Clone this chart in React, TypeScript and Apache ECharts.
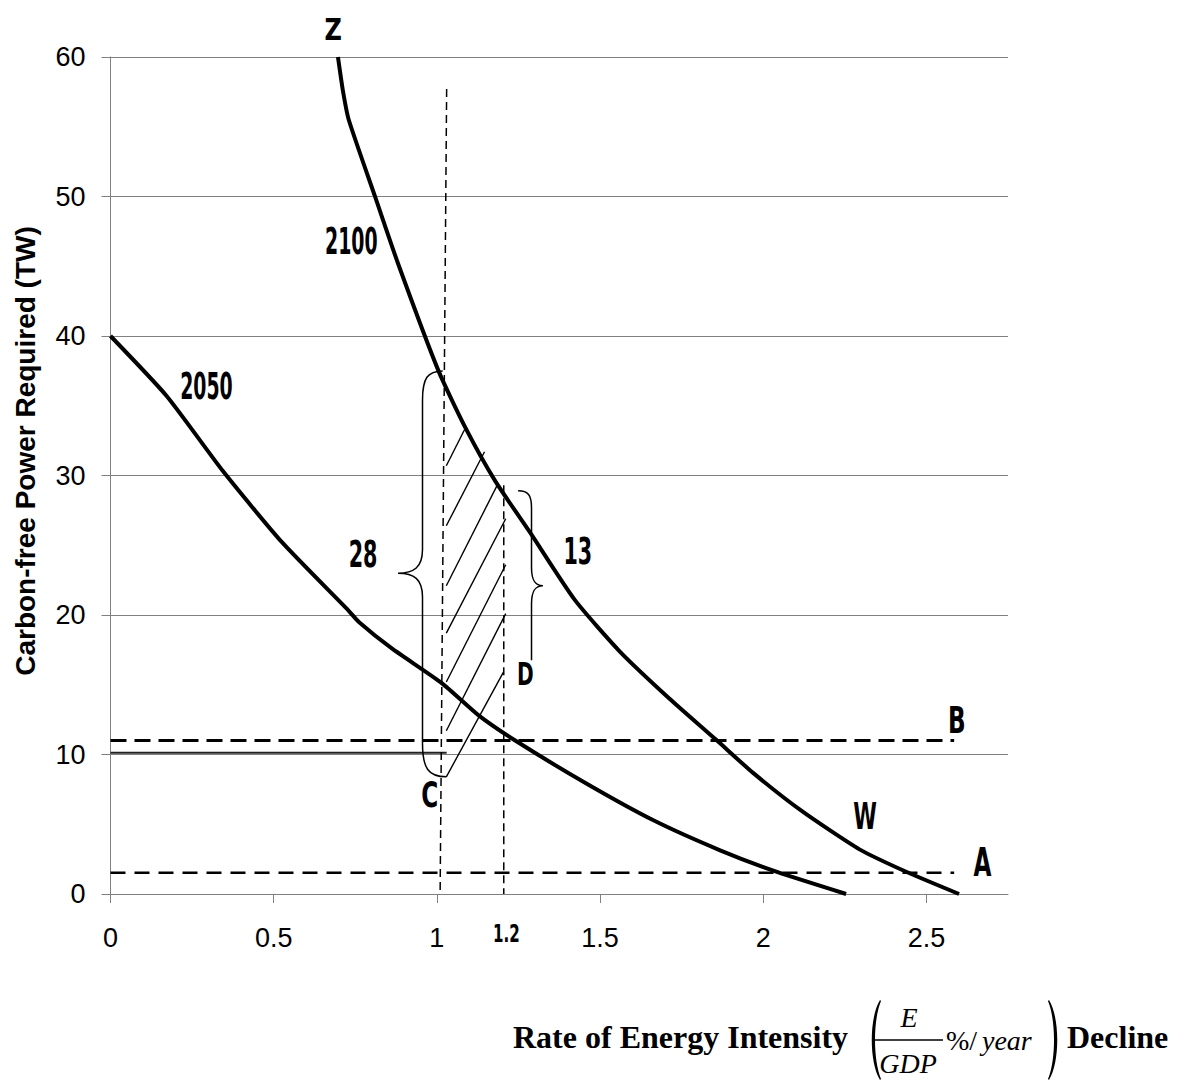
import React, { useEffect, useRef } from "react";
import * as echarts from "echarts";

// ---------- data ----------
const xTickValues = [0, 0.5, 1, 1.5, 2, 2.5];
const yTickValues = [0, 10, 20, 30, 40, 50, 60];

const curve2100: number[][] = [
  [0.697, 60], [0.712, 57.6], [0.73, 55.5], [0.812, 49.9], [0.881, 45.2],
  [1.005, 37.5], [1.087, 33.45], [1.179, 29.6], [1.286, 25.9], [1.422, 21.1],
  [1.56, 17.4], [1.713, 14.0], [1.856, 11.05], [1.968, 8.7], [2.121, 5.9],
  [2.295, 3.2], [2.445, 1.52], [2.6, 0],
];
const curve2050: number[][] = [
  [0, 40], [0.172, 35.7], [0.345, 30.3], [0.526, 25.2], [0.73, 20.3],
  [0.761, 19.5], [0.862, 17.6], [1.016, 15.1], [1.128, 12.8], [1.24, 11.0],
  [1.458, 7.92], [1.662, 5.3], [1.866, 3.15], [2.04, 1.6], [2.254, 0],
];
const lineB: number[][] = [[0, 11.0], [2.585, 11.0]];
const lineA: number[][] = [[0, 1.52], [2.585, 1.52]];
const line10: number[][] = [[0, 10.12], [1.03, 10.12]];
const vLine1: number[][] = [[1.03, 57.7], [1.01, 0]];
const vLine2: number[][] = [[1.205, 29.3], [1.205, 0]];

// hatch segments: x1, y1, x2, y2
const hatchSegments: number[][] = [
  [1.029, 30.7, 1.085, 33.3],
  [1.029, 26.4, 1.146, 31.7],
  [1.029, 22.1, 1.187, 29.4],
  [1.029, 18.7, 1.211, 26.9],
  [1.029, 15.2, 1.211, 23.6],
  [1.029, 11.7, 1.211, 20.1],
  [1.029, 8.4, 1.204, 15.9],
];

// braces: top end, spine x, tip, bottom end, curl sizes (y units)
const braces = [
  { top: [1.018, 37.5], spineX: 0.956, tip: [0.881, 23.0], bottom: [1.029, 8.4], topCurl: 2.1, tipCurl: 1.7, bottomCurl: 2.4 },
  { top: [1.249, 28.9], spineX: 1.29, tip: [1.325, 22.1], bottom: [1.29, 16.75], topCurl: 1.2, tipCurl: 1.3, bottomCurl: 0 },
];

const labelTexts = ["Z", "2100", "2050", "28", "13", "D", "C", "B", "A", "W", "1.2"];
const labelPositions: number[][] = [
  [0.682, 62.0], [0.738, 46.8], [0.294, 36.4], [0.774, 24.4], [1.432, 24.6],
  [1.271, 15.8], [0.978, 7.1], [2.593, 12.45], [2.672, 2.3], [2.312, 5.58], [1.213, -2.8],
];
const labelSizes = [28, 28, 28, 28, 28, 28, 28, 28, 28, 28, 21];
const labelScaleX = [0.95, 0.75, 0.75, 0.82, 0.82, 0.8, 0.92, 0.92, 0.92, 0.85, 0.8];
const labelScaleY = [1.1, 1.3, 1.35, 1.35, 1.35, 1.15, 1.25, 1.35, 1.4, 1.35, 1.2];

// ---------- shapes ----------
let registered = false;
function registerShapes() {
  if (registered) return;
  registered = true;
  echarts.graphic.registerShape(
    "lparen",
    echarts.graphic.extendPath("M14 0 C3 18 3 62 14 80 L15 79 C7 60 7 20 15 1 Z", {})
  );
  echarts.graphic.registerShape(
    "rparen",
    echarts.graphic.extendPath("M0 0 C11 18 11 62 0 80 L-1 79 C7 60 7 20 -1 1 Z", {})
  );
}

const narrowFont = "'Liberation Sans Narrow', 'Arial Narrow', 'DejaVu Sans Condensed', sans-serif";
const sansFont = "'Liberation Sans', Arial, sans-serif";
const serifFont = "'Liberation Serif', 'Times New Roman', serif";

export default function App() {
  const ref = useRef<HTMLDivElement>(null);

  useEffect(() => {
    document.body.style.margin = "0";
    registerShapes();
    const chart = echarts.init(ref.current!, null, { renderer: "svg" });

    const gray = "#808080";

    const lineSeries = (data: number[][], width: number, type: any, color = "#000", smooth: any = false) => ({
      type: "line",
      data,
      symbol: "none",
      smooth,
      silent: true,
      lineStyle: { color, width, type },
      z: 3,
    });

    const option: any = {
      animation: false,
      backgroundColor: "#fff",
      grid: { left: 110.5, right: 180, top: 57, bottom: 187 },
      xAxis: {
        type: "value",
        min: 0,
        max: 2.75,
        interval: 0.5,
        splitLine: { show: false },
        axisLine: { show: true, lineStyle: { color: gray, width: 1 } },
        axisTick: { show: true, length: 9, lineStyle: { color: gray }, customValues: xTickValues },
        axisLabel: {
          customValues: xTickValues,
          color: "#000",
          fontSize: 27,
          fontFamily: sansFont,
          margin: 30,
          lineHeight: 27,
        },
      },
      yAxis: {
        type: "value",
        min: 0,
        max: 60,
        interval: 10,
        splitLine: { show: true, lineStyle: { color: gray, width: 1 } },
        axisLine: { show: true, lineStyle: { color: gray, width: 1 } },
        axisTick: { show: true, length: 9, lineStyle: { color: gray }, customValues: yTickValues },
        axisLabel: { color: "#000", fontSize: 27, fontFamily: sansFont, margin: 25 },
      },
      series: [
        lineSeries(curve2100, 4, "solid", "#000", 0.2),
        lineSeries(curve2050, 4, "solid", "#000", 0.2),
        lineSeries(lineB, 3, [16, 8]),
        lineSeries(lineA, 2.5, [15, 9]),
        lineSeries(line10, 2, "solid", "#222"),
        lineSeries(vLine1, 1.5, [8, 5]),
        lineSeries(vLine2, 1.5, [8, 5]),
        {
          type: "custom",
          silent: true,
          z: 4,
          data: hatchSegments,
          renderItem: (params: any, api: any) => {
            const p1 = api.coord([api.value(0), api.value(1)]);
            const p2 = api.coord([api.value(2), api.value(3)]);
            return {
              type: "line",
              shape: { x1: p1[0], y1: p1[1], x2: p2[0], y2: p2[1] },
              style: { stroke: "#000", lineWidth: 1.4 },
            };
          },
        },
        {
          type: "custom",
          silent: true,
          z: 4,
          data: braces.map((b) => b.top),
          renderItem: (params: any, api: any) => {
            const b = braces[params.dataIndex];
            const T = api.coord(b.top);
            const P = api.coord(b.tip);
            const B = api.coord(b.bottom);
            const sx = api.coord([b.spineX, 0])[0];
            const unit = api.size([0, 1])[1];
            const rt = b.topCurl * unit;
            const rp = b.tipCurl * unit;
            const rb = b.bottomCurl * unit;
            let d = `M${T[0]} ${T[1]} C${T[0] + (sx - T[0]) * 0.75} ${T[1]} ${sx} ${T[1] + rt * 0.25} ${sx} ${T[1] + rt}`;
            d += ` L${sx} ${P[1] - rp}`;
            d += ` C${sx} ${P[1] - rp * 0.25} ${sx + (P[0] - sx) * 0.35} ${P[1]} ${P[0]} ${P[1]}`;
            d += ` C${sx + (P[0] - sx) * 0.35} ${P[1]} ${sx} ${P[1] + rp * 0.25} ${sx} ${P[1] + rp}`;
            if (rb > 0) {
              d += ` L${sx} ${B[1] - rb}`;
              d += ` C${sx} ${B[1] - rb * 0.25} ${sx + (B[0] - sx) * 0.25} ${B[1]} ${B[0]} ${B[1]}`;
            } else {
              d += ` L${sx} ${B[1]}`;
            }
            return {
              type: "path",
              shape: { pathData: d },
              style: { stroke: "#000", fill: "none", lineWidth: 1.5 },
            };
          },
        },
        {
          type: "custom",
          silent: true,
          z: 5,
          data: labelPositions,
          renderItem: (params: any, api: any) => {
            const p = api.coord([api.value(0), api.value(1)]);
            const i = params.dataIndex;
            return {
              type: "text",
              x: p[0],
              y: p[1],
              scaleX: labelScaleX[i],
              scaleY: labelScaleY[i],
              style: {
                text: labelTexts[i],
                fill: "#000",
                fontSize: labelSizes[i],
                fontFamily: narrowFont,
                fontWeight: "bold",
                align: "center",
                verticalAlign: "middle",
              },
            };
          },
        },
      ],
      graphic: [
        {
          type: "text",
          x: 25,
          y: 451,
          rotation: Math.PI / 2,
          style: {
            text: "Carbon-free Power Required (TW)",
            fill: "#000",
            fontSize: 28,
            fontWeight: "bold",
            fontFamily: sansFont,
            align: "center",
            verticalAlign: "middle",
          },
        },
        {
          type: "text",
          x: 513,
          y: 1037,
          style: {
            text: "Rate of Energy Intensity",
            fill: "#000",
            fontSize: 32,
            fontWeight: "bold",
            fontFamily: serifFont,
            align: "left",
            verticalAlign: "middle",
          },
        },
        { type: "lparen", x: 866, y: 1000, style: { fill: "#000" } },
        {
          type: "text",
          x: 909,
          y: 1017,
          style: { text: "E", fill: "#000", fontSize: 28, fontStyle: "italic", fontFamily: serifFont, align: "center", verticalAlign: "middle" },
        },
        { type: "line", shape: { x1: 875, y1: 1040, x2: 943, y2: 1040 }, style: { stroke: "#000", lineWidth: 1.5 } },
        {
          type: "text",
          x: 908,
          y: 1063,
          style: { text: "GDP", fill: "#000", fontSize: 28, fontStyle: "italic", fontFamily: serifFont, align: "center", verticalAlign: "middle" },
        },
        {
          type: "text",
          x: 946,
          y: 1040,
          style: { text: "%/", fill: "#000", fontSize: 28, fontFamily: serifFont, align: "left", verticalAlign: "middle" },
        },
        {
          type: "text",
          x: 982,
          y: 1040,
          style: { text: "year", fill: "#000", fontSize: 28, fontStyle: "italic", fontFamily: serifFont, align: "left", verticalAlign: "middle" },
        },
        { type: "rparen", x: 1049, y: 1000, style: { fill: "#000" } },
        {
          type: "text",
          x: 1067,
          y: 1037,
          style: {
            text: "Decline",
            fill: "#000",
            fontSize: 32,
            fontWeight: "bold",
            fontFamily: serifFont,
            align: "left",
            verticalAlign: "middle",
          },
        },
      ],
    };

    chart.setOption(option);
    return () => chart.dispose();
  }, []);

  return <div ref={ref} style={{ width: 1188, height: 1081 }} />;
}
